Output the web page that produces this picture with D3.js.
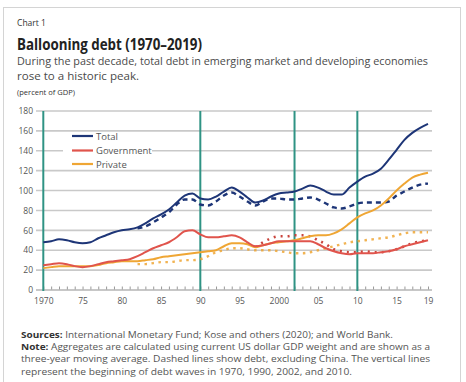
<!DOCTYPE html>
<html><head><meta charset="utf-8">
<script src="https://cdn.jsdelivr.net/npm/d3@7"></script>
<style>
html,body{margin:0;padding:0;background:#fff;}
svg{display:block;}
text{font-family:"Liberation Sans Narrow","Open Sans","DejaVu Sans",sans-serif;}
</style></head>
<body>
<svg id="c" width="466" height="382"></svg>
<script>
const years = d3.range(1970, 2020);
const total = [48,49,51,50,48,47,48,52,55,58,60,61,63,67,72,76,81,88,95,97,92,91,94,99,103,99,93,88,90,94,97,98,99,102,105,103,99,96,96,103,109,114,117,122,131,141,151,158,163,167];
const government = [25,26,27,26,24,23,24,26,28,29,30,31,34,38,42,45,48,53,59,60,56,53,53,54,55,53,48,44,45,47,49,49,49,49,49,46,42,39,37,36,37,37,37,38,39,41,44,46,48,50];
const privateDebt = [22,23,24,24,24,24,24,25,27,28,29,29,29,30,31,33,34,35,36,37,38,39,40,44,47,47,46,43,45,47,48,49,50,52,54,55,55,57,61,67,73,77,80,85,92,100,107,113,116,118];
const totalExChinaYears = d3.range(1982, 2020);
const totalExChina = [62,64,68,73,78,86,91,91,86,85,89,95,98,94,89,85,89,92,92,91,91,92,93,91,87,83,82,84,87,88,88,88,89,95,99,103,106,107];
const govExChinaYears = d3.range(1997, 2020);
const govExChina = [43,48,52,54,54,55,55,54,50,46,41,39,38,38,39,38,38,39,41,44,47,49,50];
const privExChinaYears = d3.range(1982, 2020);
const privExChina = [26,26,27,28,28,29,30,30,31,34,38,40,42,42,41,40,40,40,39,38,37,37,38,40,42,44,46,48,49,50,51,52,53,55,57,58,58,58];
const yTicks = [0,20,40,60,80,100,120,140,160,180];
const xTickYears = [1970,1975,1980,1985,1990,1995,2000,2005,2010,2015,2019];
const xTickLabels = ["1970","75","80","85","90","95","2000","05","10","15","19"];
const waveYears = [1970,1990,2002,2010];
const legendLabels = ["Total","Government","Private"];

const C = {total:"#1d3577", gov:"#e0544c", priv:"#efa634", teal:"#2f9384", grid:"#c9c9c9"};

const svg = d3.select("#c");
// frame
svg.append("rect").attr("x",3.5).attr("y",7.5).attr("width",457).attr("height",390)
  .attr("fill","none").attr("stroke","#d4d4d4").attr("stroke-width",1);

// header text
svg.append("text").attr("x",17).attr("y",25.5).attr("font-size",8.5).attr("fill","#333")
  .attr("textLength",29).attr("lengthAdjust","spacingAndGlyphs").text("Chart 1");
svg.append("text").attr("x",17).attr("y",49.5).attr("font-size",16).attr("font-weight","bold").attr("fill","#222")
  .attr("textLength",185).attr("lengthAdjust","spacingAndGlyphs").text("Ballooning debt (1970–2019)");
svg.append("text").attr("x",17).attr("y",64.5).attr("font-size",11).attr("fill","#4a4a4a")
  .attr("textLength",411).attr("lengthAdjust","spacingAndGlyphs")
  .text("During the past decade, total debt in emerging market and developing economies");
svg.append("text").attr("x",17).attr("y",79.5).attr("font-size",11).attr("fill","#4a4a4a")
  .attr("textLength",122).attr("lengthAdjust","spacingAndGlyphs").text("rose to a historic peak.");
svg.append("text").attr("x",17).attr("y",95).attr("font-size",8).attr("fill","#333")
  .attr("textLength",58).attr("lengthAdjust","spacingAndGlyphs").text("(percent of GDP)");

const x = d3.scaleLinear().domain([1970,2019]).range([43.3,428]);
const y = d3.scaleLinear().domain([0,180]).range([290,111]);

// gridlines
svg.append("g").selectAll("line").data(yTicks.filter(d=>d>0)).join("line")
  .attr("x1",36).attr("x2",432).attr("y1",d=>y(d)).attr("y2",d=>y(d))
  .attr("stroke",C.grid).attr("stroke-width",1.6);
// y axis labels
const yAxis = d3.axisLeft(y).tickValues(yTicks).tickSize(0).tickPadding(0);
const ga = svg.append("g").attr("transform","translate(33,0)").call(yAxis);
ga.select(".domain").remove();
ga.selectAll("text").attr("font-size",8.5).attr("fill","#555")
  .style("font-family",'"Liberation Sans Narrow","Open Sans",sans-serif');

// zero axis line
svg.append("line").attr("x1",36).attr("x2",432).attr("y1",y(0)).attr("y2",y(0))
  .attr("stroke","#b5b5b5").attr("stroke-width",1.6);
// minor ticks
const xAxis = d3.axisTop(x).tickValues(years).tickSize(3).tickFormat("");
const gx = svg.append("g").attr("transform",`translate(0,${y(0)-0.5})`).call(xAxis);
gx.select(".domain").remove();
gx.selectAll("line").attr("stroke","#999").attr("stroke-width",1);
// x labels
const xLab = d3.axisBottom(x).tickValues(xTickYears).tickSize(0).tickPadding(0)
  .tickFormat((d,i)=>xTickLabels[i]);
const gl = svg.append("g").attr("transform","translate(0,298)").call(xLab);
gl.select(".domain").remove();
gl.selectAll("text").attr("font-size",8.5).attr("fill","#555")
  .style("font-family",'"Liberation Sans Narrow","Open Sans",sans-serif');

// wave lines
svg.append("g").selectAll("line").data(waveYears).join("line")
  .attr("x1",d=>x(d)).attr("x2",d=>x(d)).attr("y1",y(180)).attr("y2",y(0)+1)
  .attr("stroke",C.teal).attr("stroke-width",2);

// legend box
svg.append("rect").attr("x",63).attr("y",132).attr("width",89).attr("height",37).attr("fill","#fff");
const lg = svg.append("g");
const lgColors = [C.total,C.gov,C.priv];
const lgY = [136,150.5,164];
legendLabels.forEach((l,i)=>{
  lg.append("line").attr("x1",72).attr("x2",93).attr("y1",lgY[i]).attr("y2",lgY[i])
    .attr("stroke",lgColors[i]).attr("stroke-width",2.2);
  lg.append("text").attr("x",96).attr("y",lgY[i]+3.5).attr("font-size",9.5).attr("fill","#555").text(l);
});

const line = d3.line().x(d=>x(d[0])).y(d=>y(d[1])).curve(d3.curveMonotoneX);
function draw(yrs, vals, color, opts){
  svg.append("path").datum(yrs.map((yr,i)=>[yr,vals[i]])).attr("d",line)
    .attr("fill","none").attr("stroke",color).attr("stroke-width",opts.w||2)
    .attr("stroke-dasharray",opts.dash||null).attr("stroke-linecap",opts.cap||"butt")
    .attr("opacity",opts.op||1);
}
draw(privExChinaYears, privExChina, C.priv, {w:2.4, dash:"2.5,4.5", op:0.85});
draw(totalExChinaYears, totalExChina, C.total, {w:2.4, dash:"5,4"});
draw(govExChinaYears, govExChina, "#c9443c", {w:2.6, dash:"2,5"});
draw(years, privateDebt, C.priv, {w:2});
draw(years, government, C.gov, {w:2});
draw(years, total, C.total, {w:2});

// footer
const foot = svg.append("g").attr("font-size",9).attr("fill","#555");
function footLine(yy, boldPart, rest, len){
  const t = foot.append("text").attr("x",21).attr("y",yy);
  if(len) t.attr("textLength",len).attr("lengthAdjust","spacingAndGlyphs");
  if(boldPart) t.append("tspan").attr("font-weight","bold").attr("fill","#333").text(boldPart);
  t.append("tspan").text(rest);
}
footLine(337.5,"Sources: ","International Monetary Fund; Kose and others (2020); and World Bank.",372);
footLine(349.5,"Note: ","Aggregates are calculated using current US dollar GDP weight and are shown as a",409);
footLine(362,null,"three-year moving average. Dashed lines show debt, excluding China. The vertical lines",409);
footLine(374.5,null,"represent the beginning of debt waves in 1970, 1990, 2002, and 2010.",331);
</script>
</body></html>
